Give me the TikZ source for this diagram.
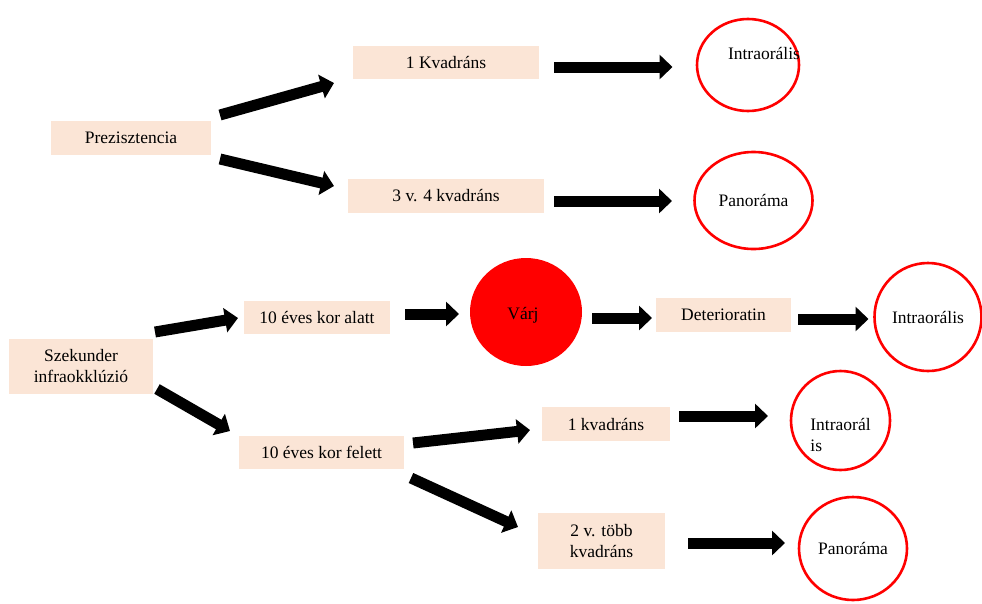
\documentclass[tikz,border=0pt]{standalone}
\usepackage{fontspec}
\setmainfont{Liberation Serif}
\usetikzlibrary{calc,shapes.geometric,arrows.meta}
\definecolor{peach}{HTML}{FBE5D6}
\definecolor{ringred}{HTML}{FF0000}

\begin{document}
\begin{tikzpicture}[x=1pt,y=-1pt,
  font=\fontsize{17.5}{21}\selectfont,
  box/.style={rectangle,fill=peach,inner sep=0pt,outer sep=0pt,align=center},
  ring/.style={ellipse,draw=ringred,line width=2.6pt,inner sep=0pt,outer sep=0pt},
  blk/.style={line width=11pt,-{Triangle[length=13pt,width=24pt]}}]

\useasboundingbox (0,0) rectangle (982,603);

% boxes
\node[box,minimum width=160,minimum height=34] (pre)   at (131,138)   {Prezisztencia};
\node[box,minimum width=186,minimum height=33] (k1)    at (446,62.5)  {1 Kvadráns};
\node[box,minimum width=196,minimum height=34] (k34)   at (446,196)   {3 v. 4 kvadráns};
\node[box,minimum width=144,minimum height=55] (szek)  at (81,366.5)  {Szekunder\\infraokklúzió};
\node[box,minimum width=146,minimum height=33] (alatt) at (317,317.5) {10 éves kor alatt};
\node[box,minimum width=165,minimum height=33] (felett) at (321.5,452.5) {10 éves kor felett};
\node[box,minimum width=128,minimum height=34] (kv1)   at (606,424)   {1 kvadráns};
\node[box,minimum width=127,minimum height=56] (tobb)  at (601.5,541) {2 v. több\\kvadráns};
\node[box,minimum width=135,minimum height=34] (det)   at (723.5,315) {Deterioratin};

% circles
\node[ring,minimum width=102,minimum height=92,
  label={[xshift=16pt,yshift=12pt]center:Intraorális}] (io1) at (748,65) {};
\node[ring,minimum width=118,minimum height=97] (pan1) at (753.5,200.5) {Panoráma};
\node[ellipse,fill=ringred,inner sep=0pt,outer sep=0pt,minimum width=112,minimum height=108,
  label={[xshift=-3pt,yshift=-3pt]center:Várj}] (varj) at (526,312) {};
\node[ring,minimum width=107,minimum height=108] (io2) at (928,317) {Intraorális};
\node[ring,minimum width=99,minimum height=99,
  label={[yshift=-14.5pt,align=left]center:Intraorál\\is}] (io3) at (840.5,420.5) {};
\node[ring,minimum width=108,minimum height=103] (pan2) at (853,548.5) {Panoráma};

% block arrows
\draw[blk] ($(pre.east)+(9,-23)$)   -- ($(k1.west)+(-19,20.5)$);
\draw[blk] ($(pre.east)+(9,21)$)    -- ($(k34.west)+(-14,-10)$);
\draw[blk] ($(k1.east)+(15,4.5)$)   -- ($(io1.west)+(-24.5,2)$);
\draw[blk] ($(k34.east)+(10,5)$)    -- ($(pan1.west)+(-22.5,0.5)$);
\draw[blk] ($(szek.east)+(2,-34.5)$) -- ($(alatt.west)+(-6,0.5)$);
\draw[blk] ($(szek.east)+(4,22.5)$)  -- ($(felett.west)+(-9,-21.5)$);
\draw[blk] ($(alatt.east)+(15,-3.5)$) -- ($(varj.west)+(-11,2)$);
\draw[blk] ($(varj.east)+(10,6)$)   -- ($(det.west)+(-4,3)$);
\draw[blk] ($(det.east)+(7,4)$)     -- ($(io2.west)+(-6,2)$);
\draw[blk] ($(felett.east)+(9,-9.5)$) -- ($(kv1.west)+(-12,6)$);
\draw[blk] ($(felett.east)+(7,25.5)$) -- ($(tobb.west)+(-20,-14)$);
\draw[blk] ($(kv1.east)+(9,-8)$)    -- ($(io3.west)+(-23,-4.5)$);
\draw[blk] ($(tobb.east)+(23,2)$)   -- ($(pan2.west)+(-14,-5.5)$);
\end{tikzpicture}
\end{document}
